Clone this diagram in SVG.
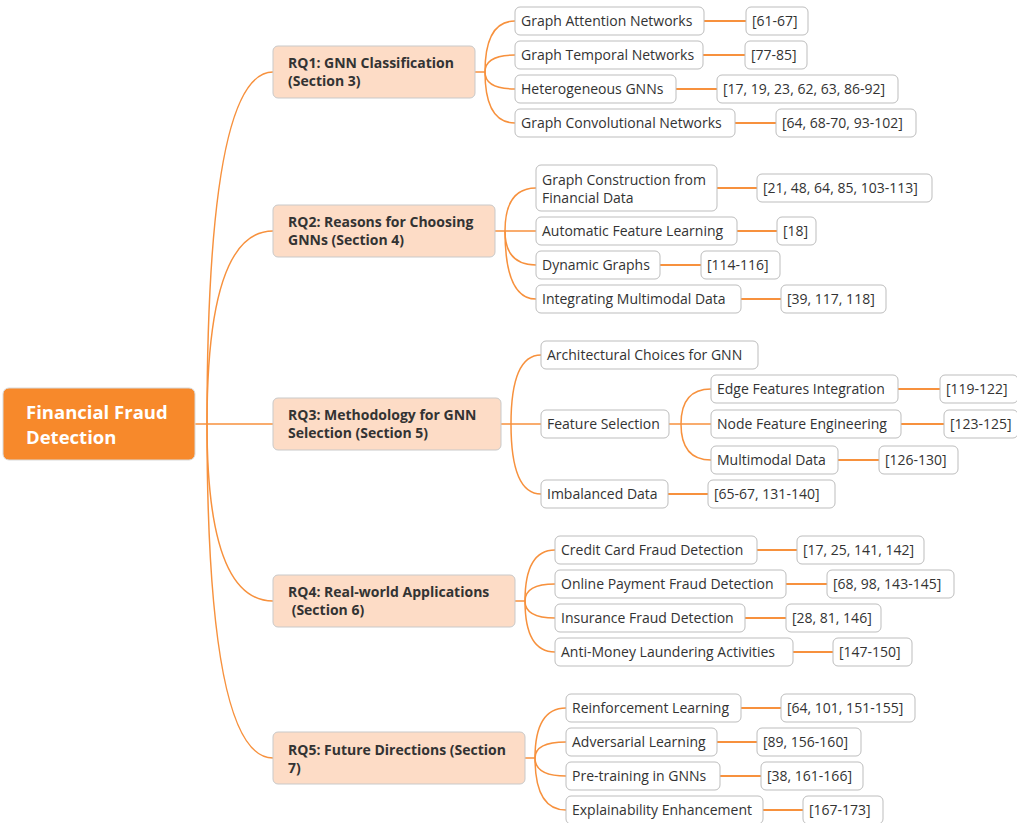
<svg xmlns="http://www.w3.org/2000/svg" width="1017" height="823" viewBox="0 0 1017 823">
<style>
.root rect{fill:#F7892B;stroke:#D9D9D9;stroke-width:1}
.root text{fill:#fff;font-family:"Open Sans","Noto Sans",sans-serif;font-weight:bold;font-size:18.5px}
.rq rect{fill:#FDDCC6;stroke:#C9C9C9;stroke-width:1}
.rq text{fill:#333;font-family:"Open Sans","Noto Sans",sans-serif;font-weight:bold;font-size:14px}
.leaf rect{fill:#fff;stroke:#BDBDBD;stroke-width:1}
.leaf text{fill:#333;font-family:"Open Sans","Noto Sans",sans-serif;font-size:14px}
.c path{fill:none;stroke:#F7913D;stroke-width:1.5}
.c line{stroke:#F7913D;stroke-width:2}
</style>
<g id="connectors" class="c">
<path d="M195,424 H207"/>
<path d="M207,424 Q207,72 273,72"/>
<path d="M207,424 Q207,231 273,231"/>
<path d="M207,424 H273"/>
<path d="M207,424 Q207,601 273,601"/>
<path d="M207,424 Q207,758 273,758"/>
<path d="M475,72 H485"/>
<path d="M485,72 Q485,21 515,21"/>
<path d="M485,72 Q485,55 515,55"/>
<path d="M485,72 Q485,89 515,89"/>
<path d="M485,72 Q485,123 515,123"/>
<path d="M495,231 H505"/>
<path d="M505,231 Q505,188 536,188"/>
<path d="M505,231 H536"/>
<path d="M505,231 Q505,265 536,265"/>
<path d="M505,231 Q505,299 536,299"/>
<path d="M501,424 H511"/>
<path d="M511,424 Q511,355 541,355"/>
<path d="M511,424 H541"/>
<path d="M511,424 Q511,494 541,494"/>
<path d="M669,424 H681"/>
<path d="M681,424 Q681,389 711,389"/>
<path d="M681,424 H711"/>
<path d="M681,424 Q681,460 711,460"/>
<path d="M515,601 H525"/>
<path d="M525,601 Q525,550 555,550"/>
<path d="M525,601 Q525,584 555,584"/>
<path d="M525,601 Q525,618 555,618"/>
<path d="M525,601 Q525,652 555,652"/>
<path d="M525,758 H535"/>
<path d="M535,758 Q535,708 566,708"/>
<path d="M535,758 Q535,742 566,742"/>
<path d="M535,758 Q535,776 566,776"/>
<path d="M535,758 Q535,810 566,810"/>
<line x1="704" y1="21" x2="746" y2="21"/>
<line x1="703" y1="55" x2="745" y2="55"/>
<line x1="676" y1="89" x2="717" y2="89"/>
<line x1="735" y1="123" x2="776" y2="123"/>
<line x1="717" y1="188" x2="757" y2="188"/>
<line x1="737" y1="231" x2="777" y2="231"/>
<line x1="660" y1="265" x2="701" y2="265"/>
<line x1="741" y1="299" x2="781" y2="299"/>
<line x1="898" y1="389" x2="940" y2="389"/>
<line x1="901" y1="424" x2="944" y2="424"/>
<line x1="838" y1="460" x2="879" y2="460"/>
<line x1="668" y1="494" x2="708" y2="494"/>
<line x1="757" y1="550" x2="797" y2="550"/>
<line x1="786" y1="584" x2="827" y2="584"/>
<line x1="745" y1="618" x2="786" y2="618"/>
<line x1="793" y1="652" x2="833" y2="652"/>
<line x1="741" y1="708" x2="781" y2="708"/>
<line x1="717" y1="742" x2="757" y2="742"/>
<line x1="720" y1="776" x2="761" y2="776"/>
<line x1="763" y1="810" x2="803" y2="810"/>
</g>
<g id="root" class="root"><rect x="3" y="388" width="192" height="72" rx="6"/><text x="26" y="419">Financial Fraud</text><text x="26" y="444">Detection</text></g>
<g id="rq1" class="rq"><rect x="273" y="46" width="202" height="52" rx="5"/><text x="288" y="68">RQ1: GNN Classification</text><text x="288" y="86">(Section 3)</text></g>
<g id="rq2" class="rq"><rect x="273" y="205" width="222" height="52" rx="5"/><text x="288" y="227">RQ2: Reasons for Choosing</text><text x="288" y="245">GNNs (Section 4)</text></g>
<g id="rq3" class="rq"><rect x="273" y="398" width="228" height="52" rx="5"/><text x="288" y="420">RQ3: Methodology for GNN</text><text x="288" y="438">Selection (Section 5)</text></g>
<g id="rq4" class="rq"><rect x="273" y="575" width="242" height="52" rx="5"/><text x="288" y="597">RQ4: Real-world Applications</text><text x="288" y="615" xml:space="preserve"> (Section 6)</text></g>
<g id="rq5" class="rq"><rect x="273" y="732" width="252" height="52" rx="5"/><text x="288" y="755">RQ5: Future Directions (Section</text><text x="288" y="773">7)</text></g>
<g id="n1a" class="leaf"><rect x="515" y="7" width="189" height="28" rx="5"/><text x="521" y="26">Graph Attention Networks</text></g>
<g id="r1a" class="leaf"><rect x="746" y="7" width="62" height="28" rx="5"/><text x="752" y="26">[61-67]</text></g>
<g id="n1b" class="leaf"><rect x="515" y="41" width="188" height="28" rx="5"/><text x="521" y="60">Graph Temporal Networks</text></g>
<g id="r1b" class="leaf"><rect x="745" y="41" width="62" height="28" rx="5"/><text x="751" y="60">[77-85]</text></g>
<g id="n1c" class="leaf"><rect x="515" y="75" width="161" height="28" rx="5"/><text x="521" y="94">Heterogeneous GNNs</text></g>
<g id="r1c" class="leaf"><rect x="717" y="75" width="181" height="28" rx="5"/><text x="723" y="94">[17, 19, 23, 62, 63, 86-92]</text></g>
<g id="n1d" class="leaf"><rect x="515" y="109" width="220" height="28" rx="5"/><text x="521" y="128">Graph Convolutional Networks</text></g>
<g id="r1d" class="leaf"><rect x="776" y="109" width="140" height="28" rx="5"/><text x="782" y="128">[64, 68-70, 93-102]</text></g>
<g id="n2a" class="leaf"><rect x="536" y="165" width="181" height="46" rx="5"/><text x="542" y="185">Graph Construction from</text><text x="542" y="203">Financial Data</text></g>
<g id="r2a" class="leaf"><rect x="757" y="174" width="175" height="28" rx="5"/><text x="763" y="193">[21, 48, 64, 85, 103-113]</text></g>
<g id="n2b" class="leaf"><rect x="536" y="217" width="201" height="28" rx="5"/><text x="542" y="236">Automatic Feature Learning</text></g>
<g id="r2b" class="leaf"><rect x="777" y="217" width="39" height="28" rx="5"/><text x="783" y="236">[18]</text></g>
<g id="n2c" class="leaf"><rect x="536" y="251" width="124" height="28" rx="5"/><text x="542" y="270">Dynamic Graphs</text></g>
<g id="r2c" class="leaf"><rect x="701" y="251" width="79" height="28" rx="5"/><text x="707" y="270">[114-116]</text></g>
<g id="n2d" class="leaf"><rect x="536" y="285" width="205" height="28" rx="5"/><text x="542" y="304">Integrating Multimodal Data</text></g>
<g id="r2d" class="leaf"><rect x="781" y="285" width="105" height="28" rx="5"/><text x="787" y="304">[39, 117, 118]</text></g>
<g id="n3a" class="leaf"><rect x="541" y="341" width="217" height="28" rx="5"/><text x="547" y="360">Architectural Choices for GNN</text></g>
<g id="n3b" class="leaf"><rect x="541" y="410" width="128" height="28" rx="5"/><text x="547" y="429">Feature Selection</text></g>
<g id="n3b1" class="leaf"><rect x="711" y="375" width="187" height="28" rx="5"/><text x="717" y="394">Edge Features Integration</text></g>
<g id="r3b1" class="leaf"><rect x="940" y="375" width="78" height="28" rx="5"/><text x="946" y="394">[119-122]</text></g>
<g id="n3b2" class="leaf"><rect x="711" y="410" width="190" height="28" rx="5"/><text x="717" y="429">Node Feature Engineering</text></g>
<g id="r3b2" class="leaf"><rect x="944" y="410" width="74" height="28" rx="5"/><text x="950" y="429">[123-125]</text></g>
<g id="n3b3" class="leaf"><rect x="711" y="446" width="127" height="28" rx="5"/><text x="717" y="465">Multimodal Data</text></g>
<g id="r3b3" class="leaf"><rect x="879" y="446" width="79" height="28" rx="5"/><text x="885" y="465">[126-130]</text></g>
<g id="n3c" class="leaf"><rect x="541" y="480" width="127" height="28" rx="5"/><text x="547" y="499">Imbalanced Data</text></g>
<g id="r3c" class="leaf"><rect x="708" y="480" width="127" height="28" rx="5"/><text x="714" y="499">[65-67, 131-140]</text></g>
<g id="n4a" class="leaf"><rect x="555" y="536" width="202" height="28" rx="5"/><text x="561" y="555">Credit Card Fraud Detection</text></g>
<g id="r4a" class="leaf"><rect x="797" y="536" width="127" height="28" rx="5"/><text x="803" y="555">[17, 25, 141, 142]</text></g>
<g id="n4b" class="leaf"><rect x="555" y="570" width="231" height="28" rx="5"/><text x="561" y="589">Online Payment Fraud Detection</text></g>
<g id="r4b" class="leaf"><rect x="827" y="570" width="127" height="28" rx="5"/><text x="833" y="589">[68, 98, 143-145]</text></g>
<g id="n4c" class="leaf"><rect x="555" y="604" width="190" height="28" rx="5"/><text x="561" y="623">Insurance Fraud Detection</text></g>
<g id="r4c" class="leaf"><rect x="786" y="604" width="95" height="28" rx="5"/><text x="792" y="623">[28, 81, 146]</text></g>
<g id="n4d" class="leaf"><rect x="555" y="638" width="238" height="28" rx="5"/><text x="561" y="657">Anti-Money Laundering Activities</text></g>
<g id="r4d" class="leaf"><rect x="833" y="638" width="79" height="28" rx="5"/><text x="839" y="657">[147-150]</text></g>
<g id="n5a" class="leaf"><rect x="566" y="694" width="175" height="28" rx="5"/><text x="572" y="713">Reinforcement Learning</text></g>
<g id="r5a" class="leaf"><rect x="781" y="694" width="134" height="28" rx="5"/><text x="787" y="713">[64, 101, 151-155]</text></g>
<g id="n5b" class="leaf"><rect x="566" y="728" width="151" height="28" rx="5"/><text x="572" y="747">Adversarial Learning</text></g>
<g id="r5b" class="leaf"><rect x="757" y="728" width="104" height="28" rx="5"/><text x="763" y="747">[89, 156-160]</text></g>
<g id="n5c" class="leaf"><rect x="566" y="762" width="154" height="28" rx="5"/><text x="572" y="781">Pre-training in GNNs</text></g>
<g id="r5c" class="leaf"><rect x="761" y="762" width="102" height="28" rx="5"/><text x="767" y="781">[38, 161-166]</text></g>
<g id="n5d" class="leaf"><rect x="566" y="796" width="197" height="28" rx="5"/><text x="572" y="815">Explainability Enhancement</text></g>
<g id="r5d" class="leaf"><rect x="803" y="796" width="80" height="28" rx="5"/><text x="809" y="815">[167-173]</text></g>
</svg>
